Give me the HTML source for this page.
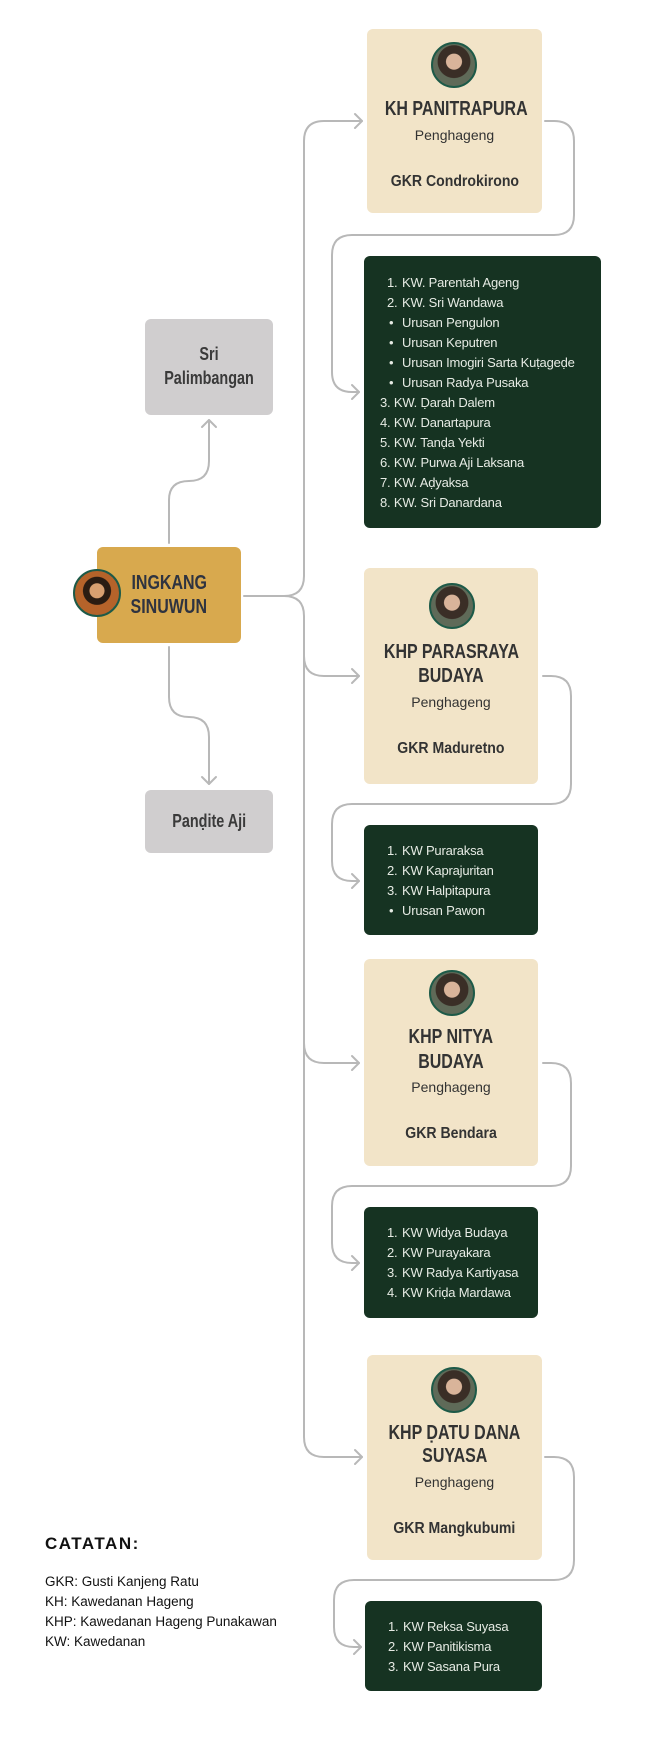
<!DOCTYPE html>
<html><head><meta charset="utf-8">
<style>
*{margin:0;padding:0;box-sizing:border-box}
body{width:646px;height:1749px;background:#fff;position:relative;overflow:hidden;font-family:"Liberation Sans",sans-serif}
.b{position:absolute;border-radius:6px}
.cream{background:#f2e4c8}
.dark{background:#163322;border-radius:6px}
.grey{background:#d0cecf}
.t{position:absolute;left:0;right:0;text-align:center;white-space:nowrap;color:#2b2b2b}
.ti{font-weight:bold;font-size:20px;line-height:24px;color:#333}
.ti span,.sq span{display:inline-block;transform:scaleX(.8)}
.pg{font-size:14px;line-height:18px;color:#333}
.gk{font-weight:bold;font-size:16px;line-height:20px;color:#333}
.sq{font-size:18px;line-height:22px;color:#3a3a3a;font-weight:bold}
.av{position:absolute;width:46px;height:46px;border-radius:50%;border:2px solid #1d5a48;background:radial-gradient(circle at 50% 42%,#d9b49a 0 24%,#3a2e26 26% 50%,#5f6a58 52%)}
.li{position:absolute;font-size:13px;line-height:20px;color:#e6ebe4;white-space:nowrap;letter-spacing:-.2px}
.x{position:absolute}
</style></head><body>

<svg width="646" height="1749" style="position:absolute;left:0;top:0" fill="none" stroke="#b8b8b8" stroke-width="2" stroke-linecap="round" stroke-linejoin="round">
<path d="M244,596 H284 Q304,596 304,576 V141 Q304,121 324,121 H362"/>
<path d="M355,114 L362,121 L355,128"/>
<path d="M284,596 Q304,596 304,616 V1437 Q304,1457 324,1457 H362"/>
<path d="M355,1450 L362,1457 L355,1464"/>
<path d="M304,656 Q304,676 324,676 H359"/><path d="M352,669 L359,676 L352,683"/>
<path d="M304,1043 Q304,1063 324,1063 H359"/><path d="M352,1056 L359,1063 L352,1070"/>
<path d="M545,121 H554 Q574,121 574,141 V215 Q574,235 554,235 H352 Q332,235 332,255 V372 Q332,392 352,392 H359"/><path d="M352,385 L359,392 L352,399"/>
<path d="M543,676 H551 Q571,676 571,696 V784 Q571,804 551,804 H352 Q332,804 332,824 V861 Q332,881 352,881 H359"/><path d="M352,874 L359,881 L352,888"/>
<path d="M543,1063 H551 Q571,1063 571,1083 V1166 Q571,1186 551,1186 H352 Q332,1186 332,1206 V1243 Q332,1263 352,1263 H359"/><path d="M352,1256 L359,1263 L352,1270"/>
<path d="M545,1457 H554 Q574,1457 574,1477 V1560 Q574,1580 554,1580 H354 Q334,1580 334,1600 V1627 Q334,1647 354,1647 H361"/><path d="M354,1640 L361,1647 L354,1654"/>
<path d="M169,543 V500 Q169,481 189,481 Q209,481 209,461 V420"/><path d="M202,427 L209,420 L216,427"/>
<path d="M169,647 V697 Q169,717 189,717 Q209,717 209,737 V784"/><path d="M202,777 L209,784 L216,777"/>
</svg>

<!-- Ingkang -->
<div class="b" style="left:97px;top:547px;width:144px;height:96px;background:#d8a94e"></div>
<div class="t ti" style="left:97px;width:144px;top:571px;color:#2e3340"><span>INGKANG</span></div>
<div class="t ti" style="left:97px;width:144px;top:595px;color:#2e3340"><span>SINUWUN</span></div>
<div class="av" style="left:73px;top:569px;width:48px;height:48px;background:radial-gradient(circle at 50% 45%,#d8a070 0 22%,#2a1c12 24% 42%,#b5632a 44%)"></div>

<!-- Sri Palimbangan -->
<div class="b grey" style="left:145px;top:319px;width:128px;height:96px"></div>
<div class="t sq" style="left:145px;width:128px;top:343px"><span>Sri</span></div>
<div class="t sq" style="left:145px;width:128px;top:367px"><span>Palimbangan</span></div>

<!-- Pandite Aji -->
<div class="b grey" style="left:145px;top:790px;width:128px;height:63px"></div>
<div class="t sq" style="left:145px;width:128px;top:810px"><span>Panḍite Aji</span></div>

<!-- KH Panitrapura -->
<div class="b cream" style="left:367px;top:29px;width:175px;height:184px"></div>
<div class="av" style="left:431px;top:42px"></div>
<div class="t ti" style="left:367px;width:175px;top:97px"><span>KH PANITRAPURA</span></div>
<div class="t pg" style="left:367px;width:175px;top:126px">Penghageng</div>
<div class="t gk" style="left:367px;width:175px;top:172px"><span style="display:inline-block;transform:scaleX(.88)">GKR Condrokirono</span></div>

<div class="dark b" style="left:364px;top:256px;width:237px;height:272px"></div>
<div class="x" style="left:364px;top:273px">
<div class="li" style="top:0;left:23px">1.</div><div class="li" style="top:0;left:38px">KW. Parentah Ageng</div>
<div class="li" style="top:20px;left:23px">2.</div><div class="li" style="top:20px;left:38px">KW. Sri Wandawa</div>
<div class="li" style="top:40px;left:25px">•</div><div class="li" style="top:40px;left:38px">Urusan Pengulon</div>
<div class="li" style="top:60px;left:25px">•</div><div class="li" style="top:60px;left:38px">Urusan Keputren</div>
<div class="li" style="top:80px;left:25px">•</div><div class="li" style="top:80px;left:38px">Urusan Imogiri Sarta Kuṭageḍe</div>
<div class="li" style="top:100px;left:25px">•</div><div class="li" style="top:100px;left:38px">Urusan Radya Pusaka</div>
<div class="li" style="top:120px;left:16px">3. KW. Ḍarah Dalem</div>
<div class="li" style="top:140px;left:16px">4. KW. Danartapura</div>
<div class="li" style="top:160px;left:16px">5. KW. Tanḍa Yekti</div>
<div class="li" style="top:180px;left:16px">6. KW. Purwa Aji Laksana</div>
<div class="li" style="top:200px;left:16px">7. KW. Aḍyaksa</div>
<div class="li" style="top:220px;left:16px">8. KW. Sri Danardana</div>
</div>

<!-- Parasraya -->
<div class="b cream" style="left:364px;top:568px;width:174px;height:216px"></div>
<div class="av" style="left:429px;top:583px"></div>
<div class="t ti" style="left:364px;width:174px;top:640px"><span>KHP PARASRAYA</span></div>
<div class="t ti" style="left:364px;width:174px;top:664px"><span>BUDAYA</span></div>
<div class="t pg" style="left:364px;width:174px;top:693px">Penghageng</div>
<div class="t gk" style="left:364px;width:174px;top:739px"><span style="display:inline-block;transform:scaleX(.88)">GKR Maduretno</span></div>

<div class="dark b" style="left:364px;top:825px;width:174px;height:110px"></div>
<div class="x" style="left:364px;top:841px">
<div class="li" style="top:0;left:23px">1.</div><div class="li" style="top:0;left:38px">KW Puraraksa</div>
<div class="li" style="top:20px;left:23px">2.</div><div class="li" style="top:20px;left:38px">KW Kaprajuritan</div>
<div class="li" style="top:40px;left:23px">3.</div><div class="li" style="top:40px;left:38px">KW Halpitapura</div>
<div class="li" style="top:60px;left:25px">•</div><div class="li" style="top:60px;left:38px">Urusan Pawon</div>
</div>

<!-- Nitya -->
<div class="b cream" style="left:364px;top:959px;width:174px;height:207px"></div>
<div class="av" style="left:429px;top:970px"></div>
<div class="t ti" style="left:364px;width:174px;top:1025px"><span>KHP NITYA</span></div>
<div class="t ti" style="left:364px;width:174px;top:1050px"><span>BUDAYA</span></div>
<div class="t pg" style="left:364px;width:174px;top:1078px">Penghageng</div>
<div class="t gk" style="left:364px;width:174px;top:1124px"><span style="display:inline-block;transform:scaleX(.88)">GKR Bendara</span></div>

<div class="dark b" style="left:364px;top:1207px;width:174px;height:111px"></div>
<div class="x" style="left:364px;top:1223px">
<div class="li" style="top:0;left:23px">1.</div><div class="li" style="top:0;left:38px">KW Widya Budaya</div>
<div class="li" style="top:20px;left:23px">2.</div><div class="li" style="top:20px;left:38px">KW Purayakara</div>
<div class="li" style="top:40px;left:23px">3.</div><div class="li" style="top:40px;left:38px">KW Radya Kartiyasa</div>
<div class="li" style="top:60px;left:23px">4.</div><div class="li" style="top:60px;left:38px">KW Kriḍa Mardawa</div>
</div>

<!-- Datu -->
<div class="b cream" style="left:367px;top:1355px;width:175px;height:205px"></div>
<div class="av" style="left:431px;top:1367px"></div>
<div class="t ti" style="left:367px;width:175px;top:1421px"><span>KHP ḌATU DANA</span></div>
<div class="t ti" style="left:367px;width:175px;top:1444px"><span>SUYASA</span></div>
<div class="t pg" style="left:367px;width:175px;top:1473px">Penghageng</div>
<div class="t gk" style="left:367px;width:175px;top:1519px"><span style="display:inline-block;transform:scaleX(.88)">GKR Mangkubumi</span></div>

<div class="dark b" style="left:365px;top:1601px;width:177px;height:90px"></div>
<div class="x" style="left:365px;top:1617px">
<div class="li" style="top:0;left:23px">1.</div><div class="li" style="top:0;left:38px">KW Reksa Suyasa</div>
<div class="li" style="top:20px;left:23px">2.</div><div class="li" style="top:20px;left:38px">KW Panitikisma</div>
<div class="li" style="top:40px;left:23px">3.</div><div class="li" style="top:40px;left:38px">KW Sasana Pura</div>
</div>

<!-- Catatan -->
<div class="x" style="left:45px;top:1533px;font-size:17px;font-weight:bold;letter-spacing:1.5px;color:#111;line-height:22px">CATATAN:</div>
<div class="x" style="left:45px;top:1572px;font-size:13.5px;line-height:20px;color:#111;white-space:nowrap">GKR: Gusti Kanjeng Ratu<br>KH: Kawedanan Hageng<br>KHP: Kawedanan Hageng Punakawan<br>KW: Kawedanan</div>

</body></html>
